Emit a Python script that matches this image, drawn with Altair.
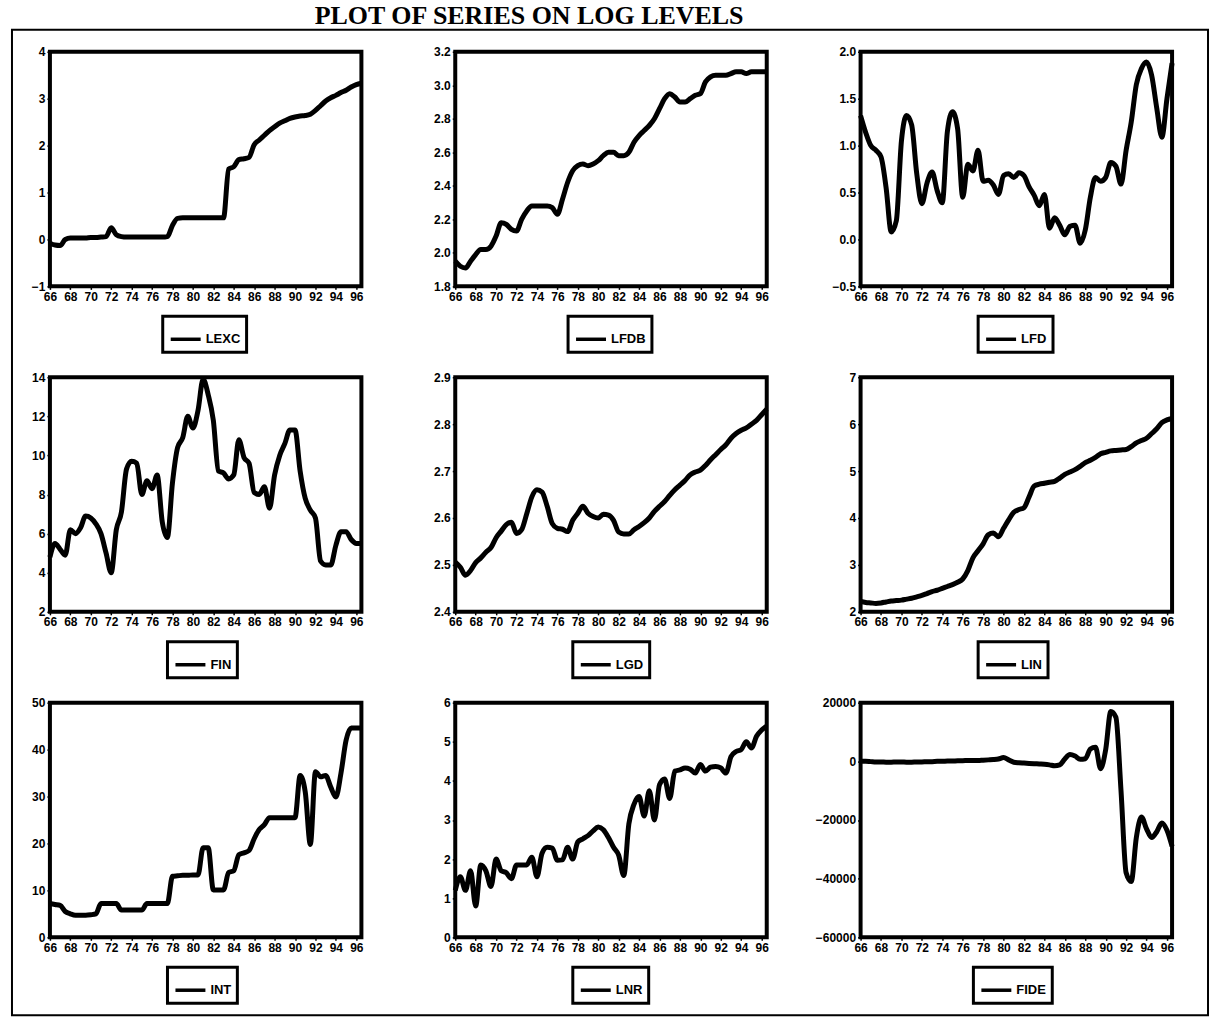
import altair as alt
import pandas as pd

# Half-yearly observations, 1966 - 1996
years = [1966 + 0.5 * i for i in range(62)]
year_ticks = list(range(1966, 1997, 2))

lexc = [-0.08, -0.12, -0.13, 0.00, 0.03, 0.03, 0.03, 0.03, 0.04, 0.04,
        0.05, 0.06, 0.25, 0.10, 0.06, 0.05, 0.05, 0.05, 0.05, 0.05,
        0.05, 0.05, 0.05, 0.06, 0.30, 0.45, 0.46, 0.46, 0.46, 0.46,
        0.46, 0.46, 0.46, 0.46, 0.46, 1.50, 1.55, 1.70, 1.72, 1.75,
        2.02, 2.12, 2.22, 2.32, 2.40, 2.48, 2.53, 2.58, 2.61, 2.63,
        2.64, 2.67, 2.75, 2.85, 2.95, 3.02, 3.07, 3.13, 3.18, 3.25,
        3.30, 3.33]

lfdb = [1.95, 1.92, 1.91, 1.95, 1.99, 2.02, 2.02, 2.04, 2.10, 2.18,
        2.17, 2.14, 2.13, 2.20, 2.25, 2.28, 2.28, 2.28, 2.28, 2.27,
        2.23, 2.32, 2.42, 2.49, 2.52, 2.53, 2.52, 2.53, 2.55, 2.58,
        2.60, 2.60, 2.58, 2.58, 2.60, 2.66, 2.70, 2.73, 2.76, 2.80,
        2.86, 2.92, 2.95, 2.93, 2.90, 2.90, 2.92, 2.94, 2.95, 3.02,
        3.05, 3.06, 3.06, 3.06, 3.07, 3.08, 3.08, 3.07, 3.08, 3.08,
        3.08, 3.08]

lfd = [1.32, 1.14, 1.00, 0.95, 0.88, 0.55, 0.08, 0.20, 1.05, 1.32,
       1.22, 0.70, 0.38, 0.60, 0.72, 0.52, 0.39, 1.15, 1.36, 1.18,
       0.45, 0.80, 0.73, 0.95, 0.62, 0.63, 0.58, 0.48, 0.68, 0.70,
       0.66, 0.71, 0.68, 0.56, 0.47, 0.36, 0.48, 0.12, 0.23, 0.15,
       0.05, 0.14, 0.15, -0.04, 0.10, 0.45, 0.66, 0.62, 0.66, 0.82,
       0.78, 0.59, 0.95, 1.25, 1.65, 1.82, 1.89, 1.75, 1.40, 1.09,
       1.50, 1.88]

fin = [4.8, 5.5, 5.2, 4.9, 6.2, 6.0, 6.3, 6.9, 6.8, 6.5,
       6.0, 5.0, 4.0, 6.2, 7.1, 9.3, 9.7, 9.6, 8.0, 8.7,
       8.3, 9.0, 6.6, 5.8, 8.6, 10.4, 10.9, 12.0, 11.4, 12.3,
       13.9, 13.1, 11.8, 9.2, 9.1, 8.8, 9.0, 10.8, 9.9, 9.6,
       8.1, 8.0, 8.4, 7.3, 9.0, 10.0, 10.6, 11.3, 11.3, 9.2,
       7.8, 7.2, 6.8, 4.6, 4.4, 4.4, 5.4, 6.1, 6.1, 5.7,
       5.5, 5.5]

lgd = [2.506, 2.495, 2.478, 2.488, 2.505, 2.515, 2.527, 2.537, 2.558, 2.572,
       2.586, 2.591, 2.567, 2.575, 2.609, 2.645, 2.660, 2.655, 2.625, 2.588,
       2.578, 2.576, 2.571, 2.595, 2.610, 2.625, 2.610, 2.603, 2.600, 2.608,
       2.606, 2.595, 2.570, 2.566, 2.566, 2.575, 2.582, 2.590, 2.600, 2.614,
       2.625, 2.635, 2.648, 2.660, 2.670, 2.680, 2.692, 2.698, 2.702, 2.712,
       2.724, 2.735, 2.746, 2.756, 2.770, 2.780, 2.787, 2.792, 2.800, 2.808,
       2.820, 2.832]

lin = [2.22, 2.20, 2.19, 2.18, 2.19, 2.21, 2.23, 2.24, 2.25, 2.27,
       2.29, 2.32, 2.35, 2.39, 2.43, 2.46, 2.50, 2.54, 2.58, 2.63,
       2.70, 2.88, 3.15, 3.30, 3.45, 3.64, 3.68, 3.60, 3.78, 3.96,
       4.12, 4.18, 4.22, 4.45, 4.68, 4.72, 4.74, 4.76, 4.78, 4.85,
       4.93, 4.98, 5.03, 5.10, 5.18, 5.23, 5.29, 5.37, 5.40, 5.43,
       5.44, 5.45, 5.46, 5.52, 5.60, 5.65, 5.70, 5.80, 5.90, 6.03,
       6.09, 6.12]

int_rate = [7.2, 7.0, 6.8, 5.5, 5.0, 4.7, 4.7, 4.7, 4.8, 5.0,
            7.2, 7.2, 7.2, 7.2, 5.8, 5.8, 5.8, 5.8, 5.8, 7.2,
            7.2, 7.2, 7.2, 7.2, 13.0, 13.1, 13.2, 13.2, 13.3, 13.3,
            19.1, 19.1, 10.1, 10.1, 10.1, 13.8, 14.2, 17.6, 18.0, 18.5,
            21.0, 23.0, 24.0, 25.5, 25.5, 25.5, 25.5, 25.5, 25.5, 34.5,
            31.0, 19.8, 35.3, 34.2, 34.5, 32.0, 29.9, 35.0, 42.0, 44.6,
            44.6, 44.6]

lnr = [1.20, 1.55, 1.20, 1.70, 0.80, 1.85, 1.70, 1.30, 2.00, 1.70,
       1.65, 1.50, 1.85, 1.85, 1.85, 2.05, 1.55, 2.15, 2.30, 2.28,
       1.97, 1.98, 2.30, 2.00, 2.44, 2.52, 2.60, 2.72, 2.82, 2.75,
       2.55, 2.30, 2.10, 1.58, 2.90, 3.40, 3.60, 3.10, 3.75, 3.00,
       3.90, 4.05, 3.55, 4.25, 4.28, 4.33, 4.30, 4.20, 4.42, 4.25,
       4.35, 4.37, 4.33, 4.20, 4.62, 4.75, 4.80, 5.00, 4.84, 5.14,
       5.30, 5.40]

fide = [0, 0, -100, -200, -200, -300, -300, -200, -200, -300,
        -300, -200, -200, -100, -100, 0, 0, 100, 100, 200,
        200, 300, 300, 300, 400, 500, 600, 800, 1300, 500,
        -300, -500, -600, -700, -800, -900, -1000, -1200, -1500, -1200,
        800, 2300, 1800, 700, 900, 4200, 4800, -2500, 4000, 17000,
        15000, -10000, -38000, -41000, -26000, -19000, -23000, -26000, -24000, -21000,
        -23500, -29000]

# y-axis tick values per panel
ticks_lexc = [-1, 0, 1, 2, 3, 4]
ticks_lfdb = [1.8, 2.0, 2.2, 2.4, 2.6, 2.8, 3.0, 3.2]
ticks_lfd = [-0.5, 0.0, 0.5, 1.0, 1.5, 2.0]
ticks_fin = [2, 4, 6, 8, 10, 12, 14]
ticks_lgd = [2.4, 2.5, 2.6, 2.7, 2.8, 2.9]
ticks_lin = [2, 3, 4, 5, 6, 7]
ticks_int = [0, 10, 20, 30, 40, 50]
ticks_lnr = [0, 1, 2, 3, 4, 5, 6]
ticks_fide = [-60000, -40000, -20000, 0, 20000]

FONT = "Liberation Sans"
PW, PH = 312, 235
COL_GAP, ROW_GAP = 94, 91


def panel(name, values, ticks, fmt):
    df = pd.DataFrame({"year": years, "value": values, "series": name})
    box_w = 14 + 30 + 4 + 9.5 * len(name)
    return (
        alt.Chart(df)
        .mark_line(strokeWidth=5, interpolate="monotone")
        .encode(
            x=alt.X(
                "year:Q",
                scale=alt.Scale(domain=[1966, 1996.5], nice=False, zero=False),
                axis=alt.Axis(
                    values=year_ticks,
                    labelExpr="substring(toString(datum.value), 2, 4)",
                    title=None,
                    labelFlush=False,
                ),
            ),
            y=alt.Y(
                "value:Q",
                scale=alt.Scale(domain=[ticks[0], ticks[-1]], nice=False, zero=False),
                axis=alt.Axis(values=ticks, format=fmt, title=None),
            ),
            color=alt.Color(
                "series:N",
                scale=alt.Scale(domain=[name], range=["black"]),
                legend=alt.Legend(
                    title=None,
                    orient="none",
                    legendX=(PW - box_w) / 2,
                    legendY=PH + 30,
                    symbolType="stroke",
                    symbolSize=900,
                    symbolStrokeWidth=3.5,
                    labelFont=FONT,
                    labelFontSize=13,
                    labelFontWeight="bold",
                    labelColor="black",
                    labelOffset=3,
                    strokeColor="black",
                    padding=6,
                ),
            ),
        )
        .properties(width=PW, height=PH)
    )


panels = [
    panel("LEXC", lexc, ticks_lexc, "d"),
    panel("LFDB", lfdb, ticks_lfdb, ".1f"),
    panel("LFD", lfd, ticks_lfd, ".1f"),
    panel("FIN", fin, ticks_fin, "d"),
    panel("LGD", lgd, ticks_lgd, ".1f"),
    panel("LIN", lin, ticks_lin, "d"),
    panel("INT", int_rate, ticks_int, "d"),
    panel("LNR", lnr, ticks_lnr, "d"),
    panel("FIDE", fide, ticks_fide, "d"),
]

grid = alt.concat(
    *panels, columns=3, spacing={"row": ROW_GAP, "column": COL_GAP}, bounds="flush"
).resolve_scale(color="independent", x="independent", y="independent")

# Outer page frame and heading
anchor = pd.DataFrame({"k": [0]})
frame_box = alt.Chart(anchor).mark_rect(filled=False, stroke="black", strokeWidth=2).encode(
    x=alt.value(-38), x2=alt.value(1160), y=alt.value(0), y2=alt.value(987)
)
heading = alt.Chart(anchor).mark_text(
    font="Liberation Serif", fontSize=26, fontWeight="bold",
    align="center", baseline="alphabetic", color="black",
).encode(x=alt.value(480), y=alt.value(-6), text=alt.value("PLOT OF SERIES ON LOG LEVELS"))
frame = alt.layer(frame_box, heading).properties(
    width=3 * PW + 2 * COL_GAP, height=22, view=alt.ViewBackground(stroke="transparent")
)

chart = (
    alt.vconcat(frame, grid, spacing=0, bounds="flush")
    .resolve_scale(color="independent")
    .properties(padding={"left": 9, "top": 0, "right": 4, "bottom": 3}, background="white")
    .configure_view(stroke="black", strokeWidth=4)
    .configure_axis(
        labelFont=FONT, labelFontSize=12, labelFontWeight="bold", labelColor="black",
        domain=False, grid=False, tickColor="black", tickSize=3, tickWidth=1.5,
        labelPadding=2, labelOverlap=False,
    )
    .configure_legend(strokeWidth=3)
)

chart.save("out.html", embed_options={"renderer": "svg", "actions": False})
